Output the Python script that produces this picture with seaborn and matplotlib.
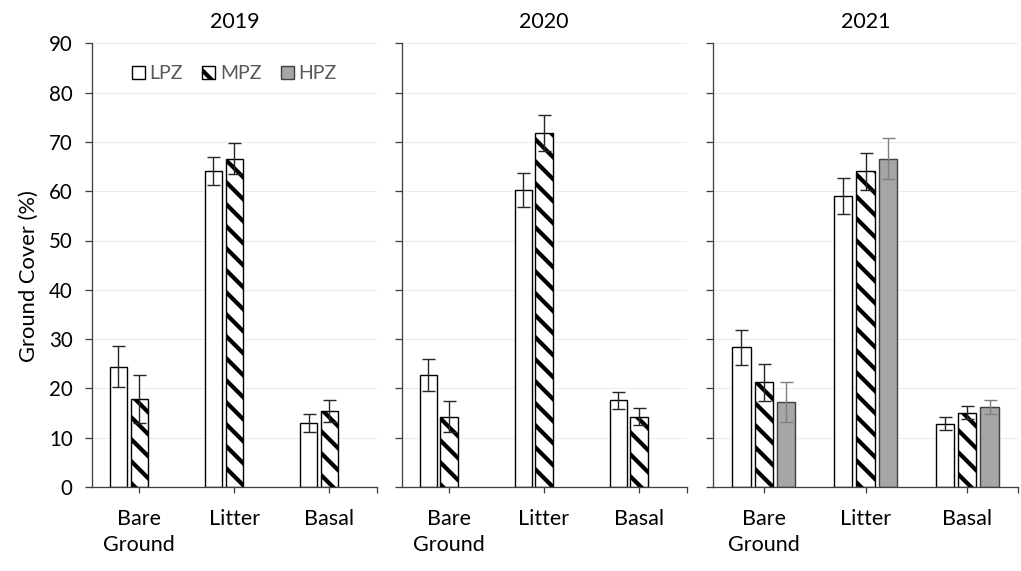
import numpy as np
import pandas as pd
import matplotlib
matplotlib.use("Agg")
import matplotlib.pyplot as plt
import seaborn as sns
from matplotlib.patches import Patch

# ---------------- data ----------------
years = ["2019", "2020", "2021"]
categories = ["Bare Ground", "Litter", "Basal"]
cat_labels = ["Bare\nGround", "Litter", "Basal"]
zones = ["LPZ", "MPZ", "HPZ"]

lpz_2019 = [24.4, 64.1, 13.0]
lpz_2019_err = [4.2, 2.8, 1.9]
mpz_2019 = [17.8, 66.6, 15.4]
mpz_2019_err = [4.9, 3.2, 2.2]

lpz_2020 = [22.7, 60.2, 17.6]
lpz_2020_err = [3.3, 3.5, 1.7]
mpz_2020 = [14.3, 71.8, 14.3]
mpz_2020_err = [3.2, 3.6, 1.7]

lpz_2021 = [28.3, 59.0, 12.8]
lpz_2021_err = [3.6, 3.7, 1.3]
mpz_2021 = [21.2, 64.0, 15.1]
mpz_2021_err = [3.7, 3.8, 1.3]
hpz_2021 = [17.2, 66.6, 16.3]
hpz_2021_err = [4.1, 4.2, 1.4]

series = {
    ("2019", "LPZ"): (lpz_2019, lpz_2019_err),
    ("2019", "MPZ"): (mpz_2019, mpz_2019_err),
    ("2020", "LPZ"): (lpz_2020, lpz_2020_err),
    ("2020", "MPZ"): (mpz_2020, mpz_2020_err),
    ("2021", "LPZ"): (lpz_2021, lpz_2021_err),
    ("2021", "MPZ"): (mpz_2021, mpz_2021_err),
    ("2021", "HPZ"): (hpz_2021, hpz_2021_err),
}

rows = []
for (yr, zn), (vals, errs) in series.items():
    for c, v, e in zip(categories, vals, errs):
        rows.append({"Year": yr, "Category": c, "Zone": zn, "Cover": v, "Err": e})
df = pd.DataFrame(rows)

# ---------------- style ----------------
DPI = 66
W, H = 1021, 571


def pt(px):
    return px * 72.0 / DPI


sns.set_theme(style="white")
plt.rcParams["font.family"] = ["Lato", "DejaVu Sans"]
plt.rcParams["hatch.linewidth"] = pt(4.2)

fill = {"LPZ": "#FFFFFF", "MPZ": "#FFFFFF", "HPZ": "#A6A6A6"}
edge = {"LPZ": "#000000", "MPZ": "#000000", "HPZ": "#404040"}
hatch = {"LPZ": None, "MPZ": "\\", "HPZ": None}
ecol = {"LPZ": "#262626", "MPZ": "#262626", "HPZ": "#7F7F7F"}

fig = plt.figure(figsize=(W / DPI, H / DPI), dpi=DPI)
fig.patch.set_facecolor("white")

bottom = (H - 487) / H
height = (487 - 43.3) / H
panels_px = [(91.7, 377.0), (401.5, 686.5), (713.0, 1018.0)]

TICK_FS = pt(20.5)
XLAB_FS = pt(21.5)
TITLE_FS = pt(21.5)
LEG_FS = pt(19.5)
YLAB_FS = pt(22)
spine_col = "#404040"

axes = []
for i, yr in enumerate(years):
    l, r = panels_px[i]
    ax = fig.add_axes([l / W, bottom, (r - l) / W, height])
    axes.append(ax)
    sub = df[df["Year"] == yr]
    sns.barplot(
        data=sub, x="Category", y="Cover", hue="Zone",
        order=categories, hue_order=zones, palette=fill,
        saturation=1, width=0.66, gap=0.18, errorbar=None,
        legend=False, ax=ax, linewidth=pt(1.4), edgecolor="black",
    )
    # style bars and add error bars
    for p in list(ax.patches):
        cx = p.get_x() + p.get_width() / 2
        off = cx - round(cx)
        zn = "LPZ" if off < -0.1 else ("HPZ" if off > 0.1 else "MPZ")
        ci = int(round(cx))
        p.set_facecolor(fill[zn])
        p.set_edgecolor(edge[zn])
        p.set_linewidth(pt(1.4))
        if hatch[zn]:
            p.set_hatch(hatch[zn])
        val = p.get_height()
        err = sub[(sub["Zone"] == zn) & (sub["Category"] == categories[ci])]["Err"].values[0]
        ax.errorbar(cx, val, yerr=err, fmt="none", ecolor=ecol[zn],
                    elinewidth=pt(1.4), capsize=pt(6.5), capthick=pt(1.4), zorder=5)

    ax.set_xlim(-0.5, 2.5)
    ax.set_ylim(0, 90)
    ax.set_yticks(np.arange(0, 91, 10))
    ax.set_xticks(range(3))
    ax.set_xticklabels(cat_labels, fontsize=XLAB_FS, color="black", linespacing=1.4)
    ax.set_xticks([2.5], minor=True)
    ax.yaxis.grid(True, color="#EBEBEB", linewidth=pt(1.0))
    ax.set_axisbelow(True)
    for s in ["top", "right"]:
        ax.spines[s].set_visible(False)
    for s in ["left", "bottom"]:
        ax.spines[s].set_color(spine_col)
        ax.spines[s].set_linewidth(pt(1.3))
    ax.tick_params(axis="y", direction="out", length=pt(7), width=pt(1.3),
                   color=spine_col, pad=pt(12), labelsize=TICK_FS,
                   labelcolor="black", left=True, labelleft=(i == 0))
    ax.tick_params(axis="x", which="both", direction="out", length=pt(6),
                   width=pt(1.3), color=spine_col, pad=pt(16), bottom=True)
    ax.set_xlabel("")
    ax.set_ylabel("")
    ax.set_title(yr, fontsize=TITLE_FS, color="black", pad=pt(15))

axes[0].set_ylabel("Ground Cover (%)", fontsize=YLAB_FS, color="black")
axes[0].yaxis.set_label_coords(-0.185, 0.475)

handles = [Patch(facecolor=fill[z], edgecolor=edge[z], hatch=hatch[z],
                 linewidth=pt(1.4), label=z) for z in zones]
leg = axes[0].legend(handles=handles, loc="center", bbox_to_anchor=(0.5, 0.931),
                     ncol=3, frameon=False, fontsize=LEG_FS,
                     handlelength=0.65, handleheight=0.65, handletextpad=0.25,
                     columnspacing=1.0, borderpad=0.2)
for t in leg.get_texts():
    t.set_color("#595959")

fig.savefig("out.png", dpi=DPI, facecolor="white")
